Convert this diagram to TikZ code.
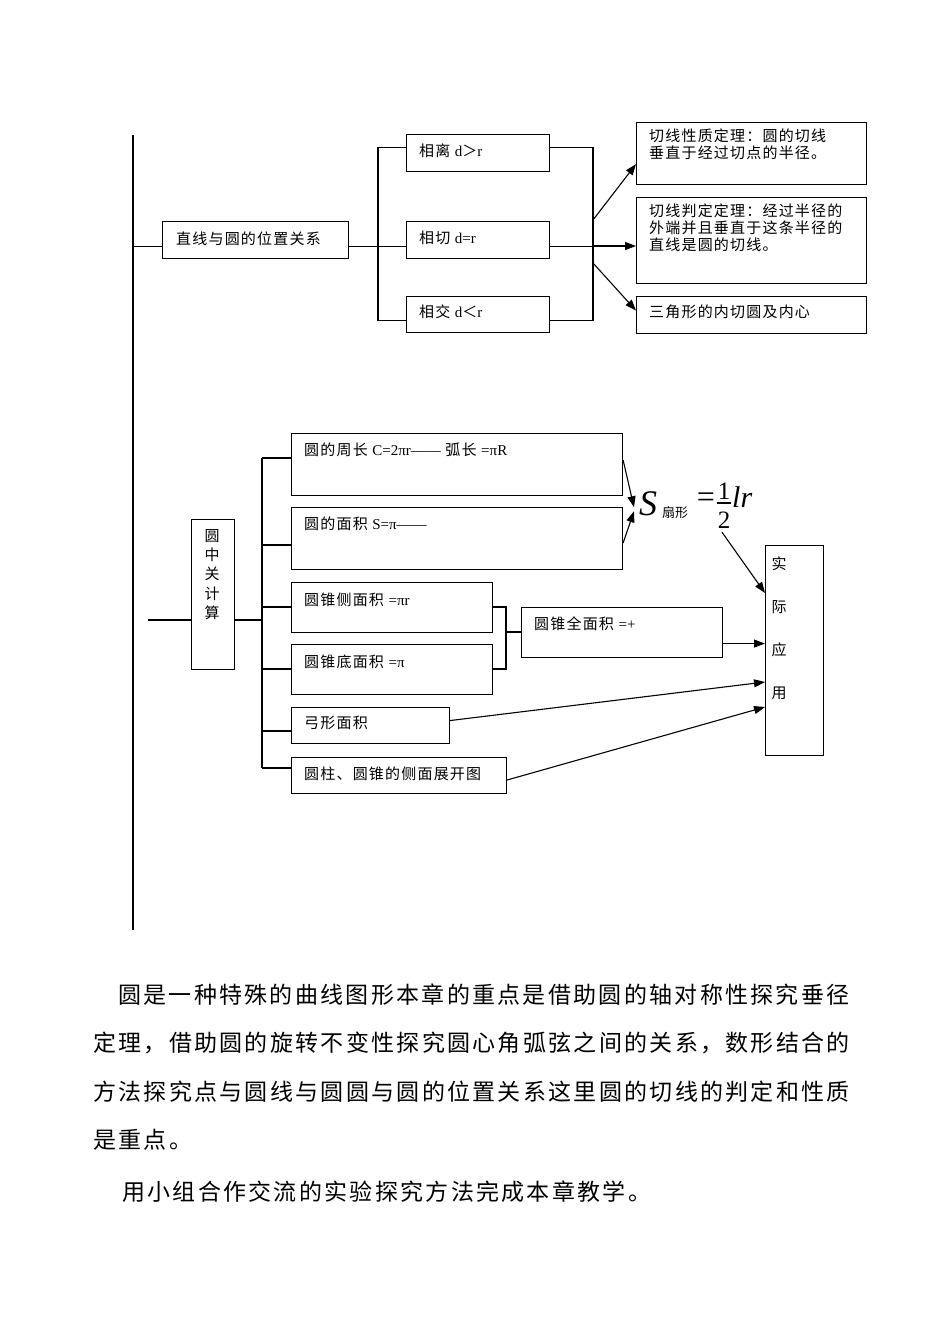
\documentclass[tikz,border=0pt]{standalone}
\usepackage{fontspec}
\setmainfont{Liberation Serif}
\newfontfamily\cjk{Noto Sans CJK SC}
\newfontfamily\lat{Liberation Serif}
\usetikzlibrary{arrows.meta,calc}
\tikzset{
  box/.style={draw, line width=1.1pt, anchor=north west, inner sep=0pt},
  lbl/.style={anchor=west, inner sep=0pt, font=\cjk\fontsize{15}{17}\selectfont\addfontfeature{LetterSpace=8}},
  mlbl/.style={anchor=north west, inner sep=0pt, align=left, font=\cjk\fontsize{15}{16.6}\selectfont\addfontfeature{LetterSpace=8}},
  para/.style={anchor=west, inner sep=0pt, font=\cjk\fontsize{23}{25}\selectfont\addfontfeature{LetterSpace=10}},
  conn/.style={line width=1.1pt},
  arr/.style={line width=1.1pt, -{Triangle[length=11pt,width=8pt]}},
}
\begin{document}
\begin{tikzpicture}[x=1pt,y=-1pt]
\useasboundingbox (0,0) rectangle (950,1344);
% trunk
\coordinate (top) at (133,135);
\coordinate (bot) at (133,930);
\draw[conn] (top) -- (bot);

% upper boxes
\node[box, minimum width=186pt, minimum height=37pt] (zx) at (162,221) {};
\node[box, minimum width=143pt, minimum height=37pt] (lx) at (406,134) {};
\node[box, minimum width=143pt, minimum height=37pt] (qx) at (406,221) {};
\node[box, minimum width=143pt, minimum height=36pt] (jx) at (406,296) {};
\node[box, minimum width=230pt, minimum height=62pt] (ta) at (636,122) {};
\node[box, minimum width=230pt, minimum height=86pt] (tb) at (636,197) {};
\node[box, minimum width=230pt, minimum height=37pt] (tc) at (636,296) {};

\node[lbl] (tzx) at (176,239) {直线与圆的位置关系};
\node[lbl] (tlx) at (419,151) {相离 {\lat d}＞{\lat r}};
\node[lbl] (tqx) at (419,238) {相切 {\lat d=r}};
\node[lbl] (tjx) at (419,312) {相交 {\lat d}＜{\lat r}};
\node[mlbl] (tta) at (649,129) {切线性质定理：圆的切线\\垂直于经过切点的半径。};
\node[mlbl] (ttb) at (649,204) {切线判定定理：经过半径的\\外端并且垂直于这条半径的\\直线是圆的切线。};
\node[lbl] (ttc) at (649,312) {三角形的内切圆及内心};

% upper connectors
\coordinate (zxL) at ([yshift=-6.5pt]zx.west);
\coordinate (zxR) at ([yshift=-6.5pt]zx.east);
\coordinate (bx) at (378,0);
\coordinate (cx) at (593,0);
\draw[conn] (zxL -| top) -- (zxL);
\draw[conn] (zxR) -- (zxR -| qx.west);
\draw[conn] ([yshift=5.5pt]lx.west) -- ([yshift=5.5pt]lx.west -| bx) -- ([yshift=-6pt]jx.west -| bx) -- ([yshift=-6pt]jx.west);
\draw[conn] ([yshift=5.5pt]lx.east) -- ([yshift=5.5pt]lx.east -| cx) -- ([yshift=-6pt]jx.east -| cx) -- ([yshift=-6pt]jx.east);
\draw[conn] ([yshift=-6.5pt]qx.east) -- ([yshift=-6.5pt]qx.east -| cx);
\coordinate (a1) at (593,220);
\coordinate (a2) at (593,246);
\coordinate (a3) at (593,263);
\draw[arr] (a1) -- ([yshift=21pt]ta.south west);
\draw[arr] (a2) -- (a2 -| tb.west);
\draw[arr] (a3) -- ([yshift=4.5pt]tc.west);

% lower boxes
\node[box, minimum width=43pt, minimum height=150pt] (yz) at (191,519) {};
\node[box, minimum width=331pt, minimum height=62pt] (b1) at (291,433) {};
\node[box, minimum width=331pt, minimum height=62pt] (b2) at (291,507) {};
\node[box, minimum width=201pt, minimum height=50pt] (b3) at (291,582) {};
\node[box, minimum width=201pt, minimum height=50pt] (b4) at (291,644) {};
\node[box, minimum width=158pt, minimum height=36pt] (b5) at (291,707) {};
\node[box, minimum width=215pt, minimum height=36pt] (b6) at (291,757) {};
\node[box, minimum width=201pt, minimum height=50pt] (qm) at (521,607) {};
\node[box, minimum width=58pt, minimum height=210pt] (sj) at (765,545) {};

\node[anchor=north, inner sep=0pt, align=center, font=\cjk\fontsize{15}{19.3}\selectfont] (tyz) at (212,529) {圆\\中\\关\\计\\算};
\node[lbl] (tb1) at (304,450) {圆的周长 {\lat C=2πr——} 弧长 {\lat =πR}};
\node[lbl] (tb2) at (304,524) {圆的面积 {\lat S=π——}};
\node[lbl] (tb3) at (304,600) {圆锥侧面积 {\lat =πr}};
\node[lbl] (tb4) at (304,662) {圆锥底面积 {\lat =π}};
\node[lbl] (tb5) at (304,723) {弓形面积};
\node[lbl] (tb6) at (304,774) {圆柱、圆锥的侧面展开图};
\node[lbl] (tqm) at (534,624) {圆锥全面积 {\lat =+}};
\node[anchor=north, inner sep=0pt, align=center, font=\cjk\fontsize{15}{42.7}\selectfont] (tsj) at (779,557) {实\\际\\应\\用};

% formula
\node[anchor=base west, inner sep=0pt, font=\lat\itshape\fontsize{36}{36}\selectfont] (fS) at (639,515) {S};
\node[anchor=base west, inner sep=0pt, font=\cjk\fontsize{13}{13}\selectfont] (fsub) at (662,517) {扇形};
\node[anchor=center, inner sep=0pt, font=\lat\fontsize{32}{32}\selectfont] (feq) at (706,500) {=};
\node[anchor=base, inner sep=0pt, font=\lat\fontsize{25}{25}\selectfont] (f1) at (724,499) {1};
\node[anchor=base, inner sep=0pt, font=\lat\fontsize{25}{25}\selectfont] (f2) at (724,528) {2};
\node[anchor=base west, inner sep=0pt, font=\lat\itshape\fontsize{30}{30}\selectfont] (flr) at (732,507) {lr};
\draw[line width=1.1pt] (717,503) -- (731,503);

% lower connectors
\coordinate (lL) at (148,620);
\coordinate (dx) at (262,0);
\draw[conn] (lL) -- (lL -| yz.west);
\draw[conn] (yz.east |- lL) -- (lL -| dx);
\coordinate (r1) at ([yshift=-25pt]b1.north west);
\coordinate (r2) at ([yshift=-38pt]b2.north west);
\coordinate (r3) at ([yshift=-25pt]b3.north west);
\coordinate (r4) at ([yshift=-25pt]b4.north west);
\coordinate (r5) at ([yshift=-24pt]b5.north west);
\coordinate (r6) at ([yshift=-11pt]b6.north west);
\draw[conn] (r1 -| dx) -- (r6 -| dx);
\foreach \r in {r1,r2,r3,r4,r5,r6} \draw[conn] (\r -| dx) -- (\r);
\coordinate (ex) at (506,0);
\coordinate (s3) at ([yshift=-25pt]b3.north east);
\coordinate (s4) at ([yshift=-25pt]b4.north east);
\coordinate (sq) at ([yshift=-25pt]qm.north west);
\draw[conn] (s3) -- (s3 -| ex) -- (s4 -| ex) -- (s4);
\draw[conn] (sq -| ex) -- (sq);
\coordinate (q1) at ([yshift=-11pt]qm.east);
\draw[arr] (q1) -- (q1 -| sj.west);
\draw[arr] ([yshift=5pt]b5.east) -- ([yshift=-137pt]sj.north west);
\draw[arr] ([yshift=-23pt]b6.north east) -- ([yshift=-162pt]sj.north west);
\draw[arr] ([yshift=-27pt]b1.north east) -- ([shift={(-5pt,-4pt)}]fS.west);
\draw[arr] ([yshift=-36pt]b2.north east) -- ([shift={(-5pt,-8pt)}]fS.west);
\draw[arr] ([shift={(-2pt,-4pt)}]f2.south) -- ([yshift=-48pt]sj.north west);

% paragraph
\node[para] (p1) at (118,995) {圆是一种特殊的曲线图形本章的重点是借助圆的轴对称性探究垂径};
\node[para] (p2) at (93,1043) {定理，借助圆的旋转不变性探究圆心角弧弦之间的关系，数形结合的};
\node[para] (p3) at (93,1092) {方法探究点与圆线与圆圆与圆的位置关系这里圆的切线的判定和性质};
\node[para] (p4) at (93,1140) {是重点。};
\node[para] (p5) at (122,1192) {用小组合作交流的实验探究方法完成本章教学。};
\end{tikzpicture}
\end{document}
